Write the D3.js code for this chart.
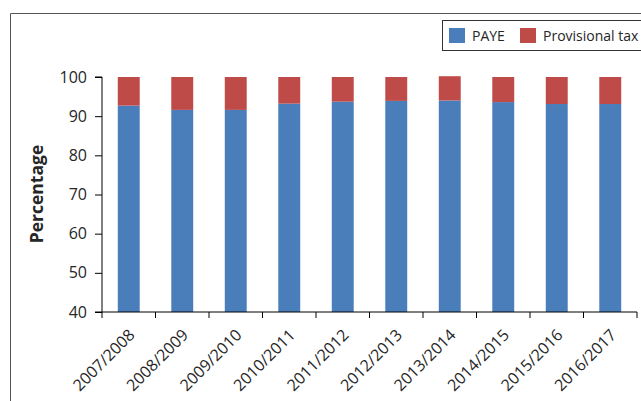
<!DOCTYPE html>
<html><head><meta charset="utf-8">
<script src="https://cdn.jsdelivr.net/npm/d3@7"></script>
<style>body{margin:0;background:#fff}svg{display:block}text{font-family:"Open Sans",sans-serif;fill:#262626}</style>
</head><body>
<svg id="c" width="641" height="401"></svg>
<script>
const categories = ["2007/2008","2008/2009","2009/2010","2010/2011","2011/2012","2012/2013","2013/2014","2014/2015","2015/2016","2016/2017"];
const paye = [92.7, 91.6, 91.6, 93.2, 93.7, 93.9, 94.0, 93.6, 93.1, 93.1];
const provisional = [7.3, 8.4, 8.4, 6.8, 6.3, 6.1, 6.2, 6.4, 6.9, 6.9];
const yTicks = [40, 50, 60, 70, 80, 90, 100];
const seriesNames = ["PAYE", "Provisional tax"];
const colors = ["#4a7ebb", "#be4b48"];

const svg = d3.select("#c");
// outer frame
svg.append("path").attr("d","M10.5,401V13.5H641").attr("fill","none").attr("stroke","#555").attr("stroke-width",1);

const x = d3.scaleBand().domain(categories).range([102, 637]).paddingInner(0.59).paddingOuter(0.295);
const y = d3.scaleLinear().domain([40, 100]).range([312, 77]);

// bars
const g = svg.append("g");
categories.forEach((c, i) => {
  g.append("rect").attr("x", x(c)).attr("width", x.bandwidth())
    .attr("y", y(paye[i])).attr("height", y(40) - y(paye[i])).attr("fill", colors[0]);
  g.append("rect").attr("x", x(c)).attr("width", x.bandwidth())
    .attr("y", y(paye[i] + provisional[i])).attr("height", y(paye[i]) - y(paye[i] + provisional[i])).attr("fill", colors[1]);
});

// y axis
const ya = svg.append("g").attr("transform","translate(102,0)")
  .call(d3.axisLeft(y).tickValues(yTicks).tickSize(7).tickPadding(8));
ya.select(".domain").attr("stroke","#000").attr("d","M-7,77H0V312");
ya.selectAll(".tick line").attr("stroke","#000");
ya.selectAll("text").attr("font-size","16px").attr("fill","#262626").style("font-family","'Open Sans',sans-serif");

// x axis
const step = x.step();
const xa = svg.append("g").attr("transform","translate(0,312)");
xa.append("line").attr("x1",95).attr("x2",637).attr("stroke","#000");
const bounds = d3.range(categories.length + 1).map(i => 102 + i * step);
xa.selectAll("line.t").data(bounds).join("line").attr("class","t")
  .attr("x1", d => d).attr("x2", d => d).attr("y1", 0).attr("y2", 6).attr("stroke","#000");
xa.selectAll("text").data(categories).join("text")
  .attr("transform", d => `translate(${x(d) + x.bandwidth()/2 + 7},24) rotate(-45)`)
  .attr("text-anchor","end").attr("font-size","16px").text(d => d);

// y label
svg.append("text").attr("transform","translate(43,194) rotate(-90)").attr("text-anchor","middle")
  .attr("font-size","17.5px").attr("font-weight","bold").text("Percentage");

// legend
const lg = svg.append("g");
lg.append("rect").attr("x",442.5).attr("y",20.5).attr("width",210).attr("height",30).attr("fill","#fff").attr("stroke","#333");
const lx = [449, 520];
seriesNames.forEach((n, i) => {
  lg.append("rect").attr("x", lx[i]).attr("y", 28).attr("width", 16).attr("height", 15).attr("fill", colors[i]);
  lg.append("text").attr("x", lx[i] + 23).attr("y", 36).attr("dy","0.35em").attr("font-size","14px").text(n);
});
</script>
</body></html>
